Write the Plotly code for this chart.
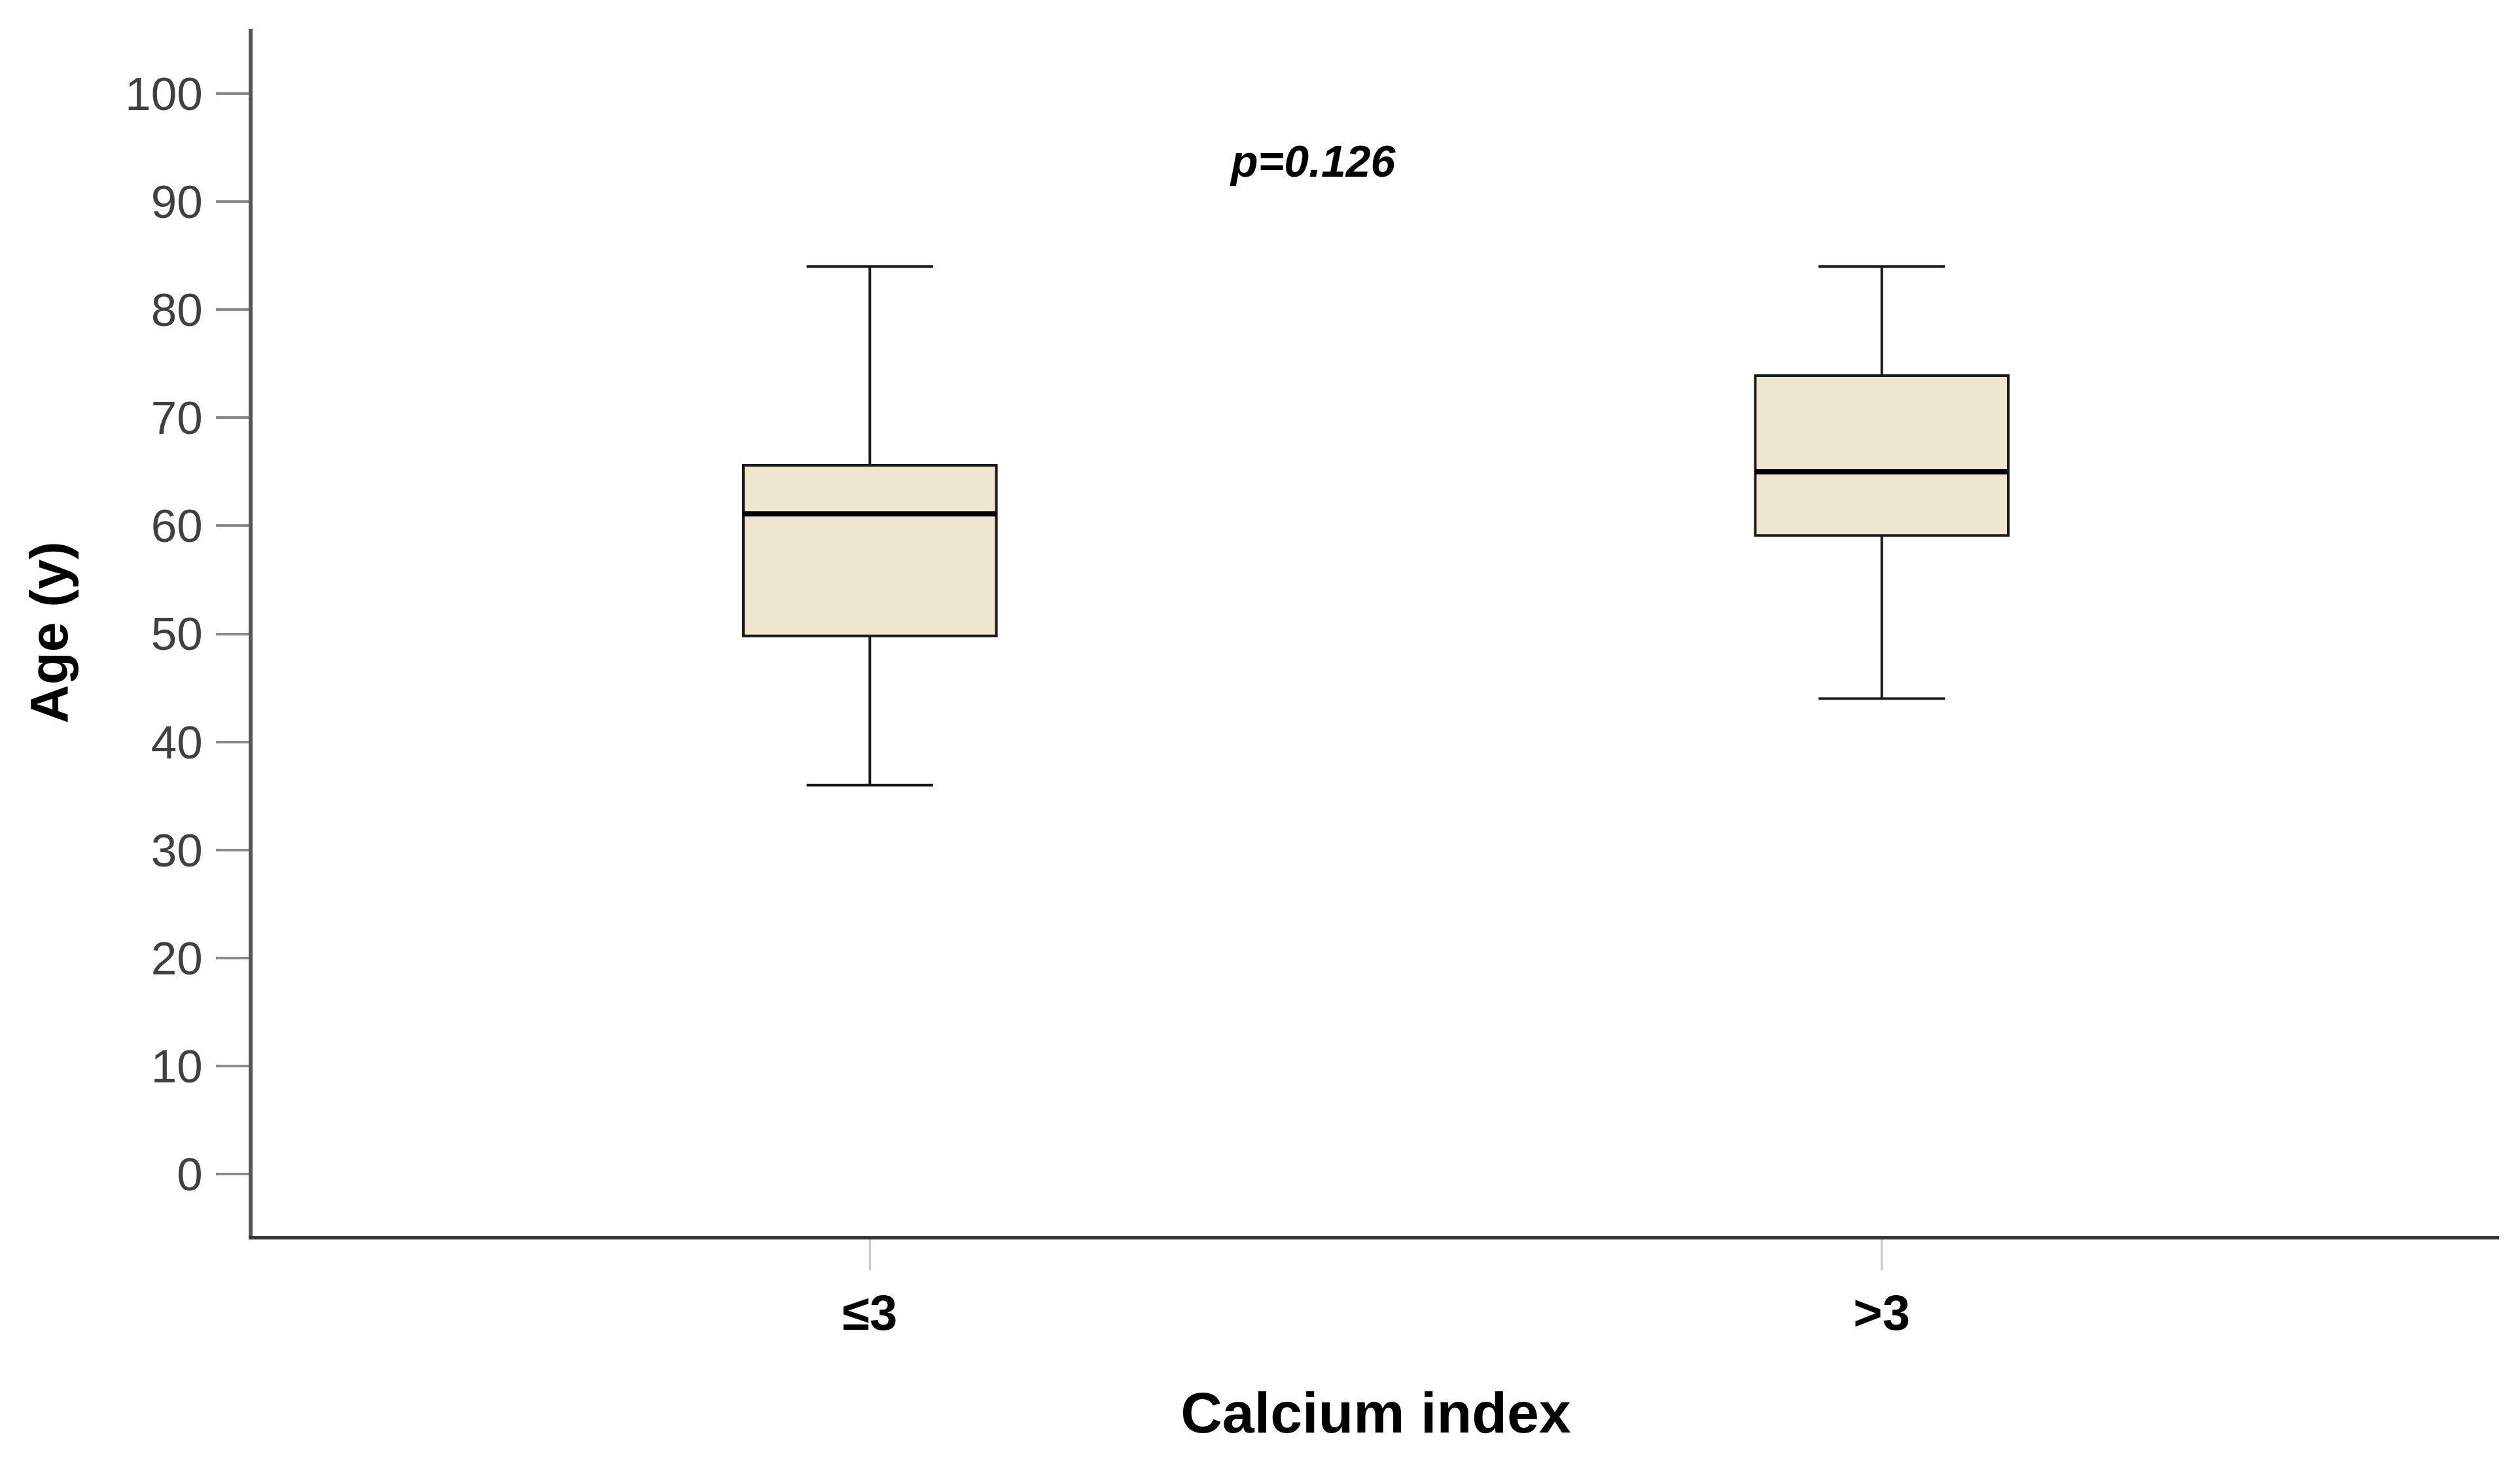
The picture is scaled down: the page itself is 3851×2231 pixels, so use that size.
import plotly.graph_objects as go

# Data
categories = ["≤3", ">3"]
lower_whisker = [36.0, 44.0]
q1_values = [49.8, 59.1]
median_values = [61.1, 65.0]
q3_values = [65.6, 73.9]
upper_whisker = [84.0, 84.0]
y_ticks = [0, 10, 20, 30, 40, 50, 60, 70, 80, 90, 100]
p_label = "p=0.126"

FONT = "Arial, Liberation Sans, sans-serif"
BOX_FILL = "rgb(239,230,207)"

fig = go.Figure()

for i, cat in enumerate(categories):
    fig.add_trace(go.Box(
        x=[cat],
        q1=[q1_values[i]],
        median=[median_values[i]],
        q3=[q3_values[i]],
        lowerfence=[lower_whisker[i]],
        upperfence=[upper_whisker[i]],
        width=0.25,
        whiskerwidth=0.5,
        fillcolor=BOX_FILL,
        line=dict(color="#1a1a1a", width=4),
        boxpoints=False,
        hoverinfo="skip",
        showlegend=False,
    ))
    # thicker median line drawn from the same median value
    fig.add_trace(go.Box(
        x=[cat],
        q1=[median_values[i]],
        median=[median_values[i]],
        q3=[median_values[i]],
        lowerfence=[median_values[i]],
        upperfence=[median_values[i]],
        width=0.25,
        whiskerwidth=0,
        fillcolor="rgba(0,0,0,0)",
        line=dict(color="#000000", width=8),
        boxpoints=False,
        hoverinfo="skip",
        showlegend=False,
    ))

fig.add_annotation(
    text=p_label,
    xref="paper", yref="y",
    x=0.472, y=93.75,
    showarrow=False,
    font=dict(family=FONT, size=68, color="#000000", weight="bold", style="italic"),
)

fig.update_layout(
    width=3843,
    height=2223,
    paper_bgcolor="white",
    plot_bgcolor="white",
    margin=dict(l=378, r=32, t=36, b=342),
    boxmode="overlay",
    font=dict(family=FONT),
    xaxis=dict(
        type="category",
        categoryorder="array",
        categoryarray=categories,
        range=[-0.61, 1.61],
        showline=True,
        linecolor="#333333",
        linewidth=5,
        showgrid=False,
        zeroline=False,
        ticks="outside",
        ticklen=47,
        tickwidth=3,
        tickcolor="#c8c8c8",
        tickfont=dict(family=FONT, size=76, color="#000000", weight="bold"),
        ticklabelstandoff=0,
        title=dict(
            text="Calcium index",
            font=dict(family=FONT, size=88, color="#000000", weight="bold"),
            standoff=82,
        ),
    ),
    yaxis=dict(
        range=[-5.75, 106.0],
        tickvals=y_ticks,
        ticktext=[str(v) for v in y_ticks],
        showline=True,
        linecolor="#555555",
        linewidth=6,
        showgrid=False,
        zeroline=False,
        ticks="outside",
        ticklen=50,
        tickwidth=4,
        tickcolor="#8a8a8a",
        tickfont=dict(family=FONT, size=71, color="#404040"),
        ticklabelstandoff=6,
        title=dict(
            text="Age (y)",
            font=dict(family=FONT, size=82, color="#000000", weight="bold"),
            standoff=63,
        ),
    ),
)

fig.write_html("out.html")
